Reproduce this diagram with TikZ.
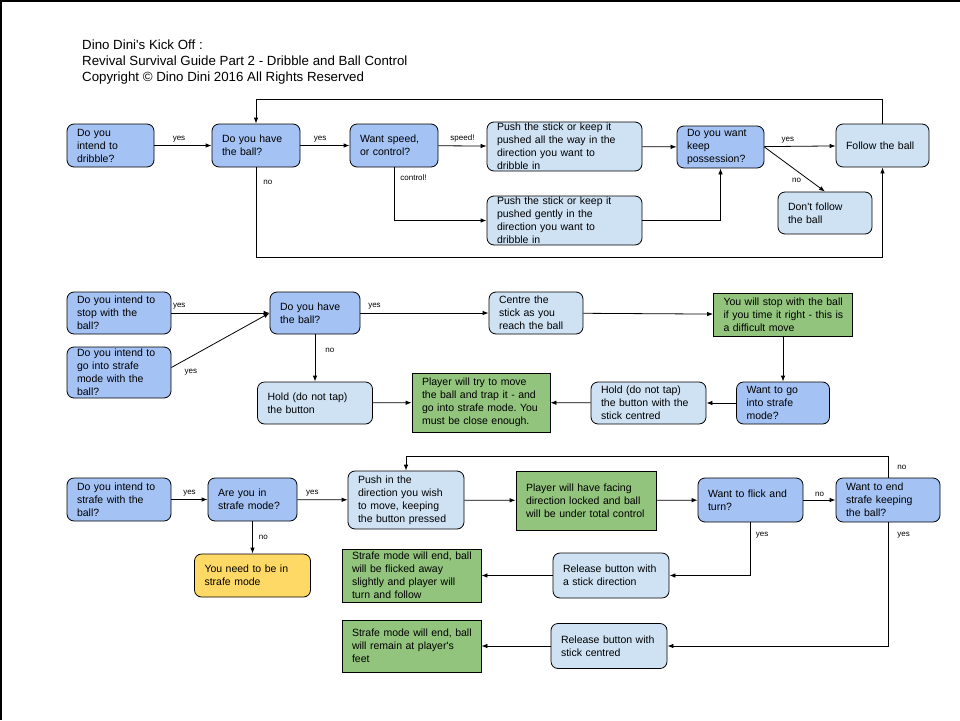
\documentclass[tikz,border=0pt]{standalone}
\usepackage{fontspec}
\setmainfont{Liberation Sans}
\frenchspacing
\usetikzlibrary{arrows.meta}
\definecolor{askblue}{HTML}{A4C2F4}
\definecolor{actblue}{HTML}{CFE2F3}
\definecolor{okgreen}{HTML}{93C47D}
\definecolor{warnyellow}{HTML}{FFD966}
\tikzset{
  box/.style={draw=black, line width=0.8pt, inner xsep=10pt, inner ysep=0pt, align=left, font=\fontsize{10.5}{13}\selectfont,
    execute at begin node={\rightskip=-12pt plus 1fil}},
  ask/.style={box, rounded corners=7pt, fill=askblue, minimum height=43pt},
  act/.style={box, rounded corners=7pt, fill=actblue},
  done/.style={box, fill=okgreen},
  warn/.style={box, rounded corners=7pt, fill=warnyellow},
  flow/.style={-{Latex[length=6pt,width=4.5pt]}, line width=0.8pt},
  lbl/.style={font=\fontsize{8}{9}\selectfont, inner sep=3pt}
}
\begin{document}
\begin{tikzpicture}[x=1pt, y=-1pt]
\useasboundingbox (0,0) rectangle (960,720);
\draw[line width=1.5pt] (0,0.75) -- (960,0.75);
\draw[line width=1.5pt] (0.75,0) -- (0.75,720);
\node[anchor=north west, inner sep=0pt, align=left, font=\fontsize{13.3}{16}\selectfont] (Title) at (82,39.5) {Dino Dini\textquotesingle s Kick Off :\\ Revival Survival Guide Part 2 - Dribble and Ball Control\\ Copyright © Dino Dini 2016 All Rights Reserved};

% dribble
\node[ask, text width=67pt] (Intend Dribble) at (110.5,145.5) {Do you\\ intend to\\ dribble?};
\node[ask, text width=68pt] (Have Ball 1) at (256,145.5) {Do you have\\ the ball?};
\node[ask, text width=68pt] (Speed Or Control) at (394,145.5) {Want speed,\\ or control?};
\node[act, text width=135pt, minimum height=49pt] (Push Full) at (564.5,146.5) {Push the stick or keep it\\ pushed all the way in the\\ direction you want to\\ dribble in};
\node[ask, text width=67pt, minimum height=42pt] (Keep Possession) at (720.5,147) {Do you want\\ keep\\ possession?};
\node[act, text width=73pt, minimum height=43pt] (Follow Ball) at (882.5,145.5) {Follow the ball};
\node[act, text width=135pt, minimum height=49pt] (Push Gentle) at (564.5,220.5) {Push the stick or keep it\\ pushed gently in the\\ direction you want to\\ dribble in};
\node[act, text width=74pt, minimum height=42pt] (No Follow) at (825,213) {Don\textquotesingle t follow\\ the ball};

\draw[flow] (Intend Dribble) -- node[lbl, above, pos=0.43]{yes} (Have Ball 1);
\draw[flow] (Have Ball 1) -- node[lbl, above, pos=0.4]{yes} (Speed Or Control);
\draw[flow] (Speed Or Control) -- node[lbl, above]{speed!} (Push Full);
\draw[flow] (Speed Or Control) |- node[lbl, right=3pt, pos=0.1]{control!} (Push Gentle);
\draw[flow] (Push Full) -- (Keep Possession);
\draw[flow] (Push Gentle) -| (Keep Possession);
\draw[flow] (Keep Possession) -- node[lbl, above, pos=0.33]{yes} (Follow Ball);
\draw[flow] (Keep Possession.east) -- node[lbl, below, pos=0.53, yshift=-4pt]{no} (No Follow.north);
\draw[flow] (Have Ball 1) -- node[lbl, right=4pt, pos=0.17]{no} ++(0,111.5) -| (Follow Ball);
\draw[flow] (Follow Ball) -- ++(0,-46.5) -| (Have Ball 1);

% stop
\node[ask, text width=84pt, minimum height=42pt] (Intend Stop) at (119,313) {Do you intend to\\ stop with the\\ ball?};
\node[ask, text width=84pt, minimum height=51pt] (Intend Strafe) at (119,372.5) {Do you intend to\\ go into strafe\\ mode with the\\ ball?};
\node[ask, text width=70pt, minimum height=42pt] (Have Ball 2) at (315,313) {Do you have\\ the ball?};
\node[act, text width=74pt, minimum height=42pt] (Centre Stick) at (536,313) {Centre the\\ stick as you\\ reach the ball};
\node[done, text width=119pt, minimum height=43pt] (Stop Result) at (783,314.5) {You will stop with the ball\\ if you time it right - this is\\ a difficult move};
\node[ask, text width=73pt, minimum height=42pt] (Go Strafe) at (783,403) {Want to go\\ into strafe\\ mode?};
\node[act, text width=95pt, minimum height=42pt] (Hold Centred) at (648.5,403) {Hold (do not tap)\\ the button with the\\ stick centred};
\node[done, text width=118pt, minimum height=59pt] (Trap Result) at (481,402.5) {Player will try to move\\ the ball and trap it - and\\ go into strafe mode. You\\ must be close enough.};
\node[act, text width=95pt, minimum height=42pt] (Hold Button) at (315,403) {Hold (do not tap)\\ the button};

\draw[flow] (Intend Stop) -- node[lbl, above, pos=0.08]{yes} (Have Ball 2);
\draw[flow] ([yshift=5pt]Intend Strafe.east) -- node[lbl, below right, pos=0.1, yshift=-4pt]{yes} (Have Ball 2.west);
\draw[flow] (Have Ball 2) -- node[lbl, above, pos=0.11]{yes} (Centre Stick);
\draw[flow] (Have Ball 2) -- node[lbl, right=7pt, pos=0.33]{no} (Hold Button);
\draw[flow] (Centre Stick) -- (Stop Result);
\draw[flow] (Stop Result) -- (Go Strafe);
\draw[flow] (Go Strafe) -- (Hold Centred);
\draw[flow] (Hold Centred) -- (Trap Result);
\draw[flow] (Hold Button) -- (Trap Result);

% strafe
\node[ask, text width=84pt, minimum height=43pt] (Intend Strafe Ball) at (119,499.5) {Do you intend to\\ strafe with the\\ ball?};
\node[ask, text width=69pt] (In Strafe) at (252.5,499.5) {Are you in\\ strafe mode?};
\node[act, text width=96pt, minimum height=58pt] (Push Direction) at (406,500) {Push in the\\ direction you wish\\ to move, keeping\\ the button pressed};
\node[warn, text width=96pt, minimum height=43pt] (Need Strafe) at (252.5,575.5) {You need to be in\\ strafe mode};
\node[done, text width=120pt, minimum height=59pt] (Locked Result) at (586,500.5) {Player will have facing\\ direction locked and ball\\ will be under total control};
\node[ask, text width=85pt, minimum height=44pt] (Flick Turn) at (750.5,500) {Want to flick and\\ turn?};
\node[ask, text width=84pt, minimum height=44pt] (End Strafe) at (888,500) {Want to end\\ strafe keeping\\ the ball?};
\node[done, text width=119pt, minimum height=53pt] (Flick Result) at (411.5,575.5) {Strafe mode will end, ball\\ will be flicked away\\ slightly and player will\\ turn and follow};
\node[act, text width=96pt, minimum height=45pt] (Release Direction) at (611,575.5) {Release button with\\ a stick direction};
\node[done, text width=119pt, minimum height=52pt] (Feet Result) at (411.5,646) {Strafe mode will end, ball\\ will remain at player\textquotesingle s\\ feet};
\node[act, text width=96pt, minimum height=45pt] (Release Centred) at (609,646) {Release button with\\ stick centred};

\draw[flow] (Intend Strafe Ball) -- node[lbl, above]{yes} (In Strafe);
\draw[flow] (In Strafe) -- node[lbl, above, pos=0.3]{yes} (Push Direction);
\draw[flow] (In Strafe) -- node[lbl, right=3pt]{no} (Need Strafe);
\draw[flow] (Push Direction) -- (Locked Result);
\draw[flow] (Locked Result) -- (Flick Turn);
\draw[flow] (Flick Turn) -- node[lbl, above]{no} (End Strafe);
\draw[flow] (Flick Turn) |- node[lbl, right=2pt, pos=0.12]{yes} (Release Direction);
\draw[flow] (End Strafe) |- node[lbl, right=6pt, pos=0.05]{yes} (Release Centred);
\draw[flow] (End Strafe) -- node[lbl, right=6pt]{no} ++(0,-43.5) -| (Push Direction);
\draw[flow] (Release Direction) -- (Flick Result);
\draw[flow] (Release Centred) -- (Feet Result);
\end{tikzpicture}
\end{document}
